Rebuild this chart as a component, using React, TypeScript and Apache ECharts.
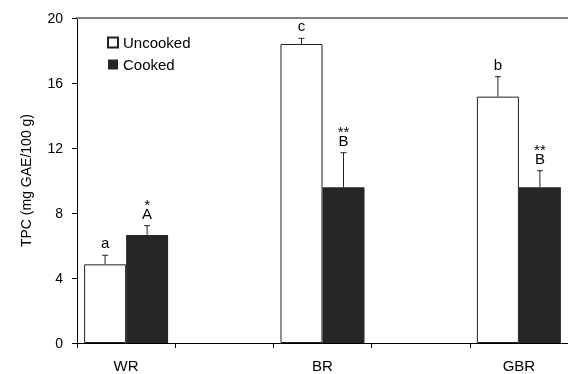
import React, { useEffect, useRef } from "react";
import * as echarts from "echarts";

const categories = ["WR", "", "BR", "", "GBR"];
const seriesNames = ["Uncooked", "Cooked"];
const uncooked = [4.84, null, 18.4, null, 15.16];
const uncookedErr = [0.56, null, 0.35, null, 1.23];
const cooked = [6.65, null, 9.58, null, 9.58];
const cookedErr = [0.57, null, 2.13, null, 1.02];
const uncookedLetters = ["a", "", "c", "", "b"];
const cookedLetters = ["A", "", "B", "", "B"];
const cookedStars = ["*", "", "**", "", "**"];
const yTicks = { min: 0, max: 20, interval: 4 };

const FONT = "Arial, 'Liberation Sans', sans-serif";
const BAR_W = 42;

type Err = { idx: number; val: number; err: number; sign: number; letter: string; stars: string };

function buildErr(vals: (number | null)[], errs: (number | null)[], letters: string[], stars: string[] | null, sign: number): Err[] {
  const out: Err[] = [];
  vals.forEach((v, i) => {
    if (v == null) return;
    out.push({ idx: i, val: v, err: errs[i] as number, sign, letter: letters[i], stars: stars ? stars[i] : "" });
  });
  return out;
}

export default function App() {
  const ref = useRef<HTMLDivElement>(null);
  useEffect(() => {
    if (!ref.current) return;
    const chart = echarts.init(ref.current, null, { renderer: "svg" });
    const errAll = [
      ...buildErr(uncooked, uncookedErr, uncookedLetters, null, -1),
      ...buildErr(cooked, cookedErr, cookedLetters, cookedStars, 1),
    ];
    const renderItem = (params: any, api: any) => {
      const e = errAll[params.dataIndex];
      const cx = api.coord([e.idx, 0])[0] + (e.sign * BAR_W) / 2;
      const yBar = api.coord([e.idx, e.val])[1];
      const yTop = api.coord([e.idx, e.val + e.err])[1];
      const label = e.stars ? `${e.stars}\n${e.letter}` : e.letter;
      const children: any[] = [
        { type: "line", shape: { x1: cx, y1: yBar, x2: cx, y2: yTop }, style: { stroke: "#222", lineWidth: 1 } },
        { type: "line", shape: { x1: cx - 3, y1: yTop, x2: cx + 3, y2: yTop }, style: { stroke: "#222", lineWidth: 1 } },
        {
          type: "text",
          x: cx,
          y: yTop - 8,
          style: {
            text: label,
            fill: "#000",
            font: `15px ${FONT}`,
            lineHeight: 9,
            align: "center",
            verticalAlign: "bottom",
          },
        },
      ];
      return { type: "group", children };
    };
    chart.setOption({
      animation: false,
      grid: { left: 77, right: 0, top: 18, bottom: 31, containLabel: false },
      legend: {
        orient: "vertical",
        left: 107,
        top: 35,
        padding: 0,
        itemWidth: 10,
        itemHeight: 10,
        itemGap: 7,
        icon: "rect",
        data: seriesNames,
        textStyle: { fontFamily: FONT, fontSize: 15, color: "#000" },
      },
      xAxis: [
        {
          type: "category",
          data: categories,
          boundaryGap: true,
          axisLine: { lineStyle: { color: "#000", width: 1 } },
          axisTick: { show: true, length: 5, lineStyle: { color: "#000" }, interval: 0 },
          axisLabel: { fontFamily: FONT, fontSize: 15, color: "#000", margin: 15, interval: 0 },
        },
        {
          type: "category",
          data: categories,
          position: "top",
          axisLine: { lineStyle: { color: "#808080", width: 2 } },
          axisTick: { show: false },
          axisLabel: { show: false },
        },
      ],
      yAxis: {
        type: "value",
        min: yTicks.min,
        max: yTicks.max,
        interval: yTicks.interval,
        name: "TPC (mg GAE/100 g)",
        nameLocation: "middle",
        nameGap: 44,
        nameTextStyle: { fontFamily: FONT, fontSize: 14, color: "#000" },
        axisLine: { show: true, lineStyle: { color: "#000", width: 1 } },
        axisTick: { show: true, length: 5, lineStyle: { color: "#000" } },
        axisLabel: { fontFamily: FONT, fontSize: 14, color: "#000", margin: 14 },
        splitLine: { show: false },
      },
      series: [
        {
          name: seriesNames[0],
          type: "bar",
          data: uncooked,
          barWidth: BAR_W,
          barGap: "0%",
          itemStyle: { color: "#fff", borderColor: "#222", borderWidth: 1 },
        },
        {
          name: seriesNames[1],
          type: "bar",
          data: cooked,
          barWidth: BAR_W,
          barGap: "0%",
          itemStyle: { color: "#262626" },
        },
        {
          type: "custom",
          renderItem,
          data: errAll.map((e) => [e.idx, e.val + e.err]),
          encode: { x: 0, y: 1 },
          z: 5,
          silent: true,
        },
      ],
    });
    return () => chart.dispose();
  }, []);
  return <div ref={ref} style={{ position: "fixed", left: 0, top: 0, width: 568, height: 374 }} />;
}
